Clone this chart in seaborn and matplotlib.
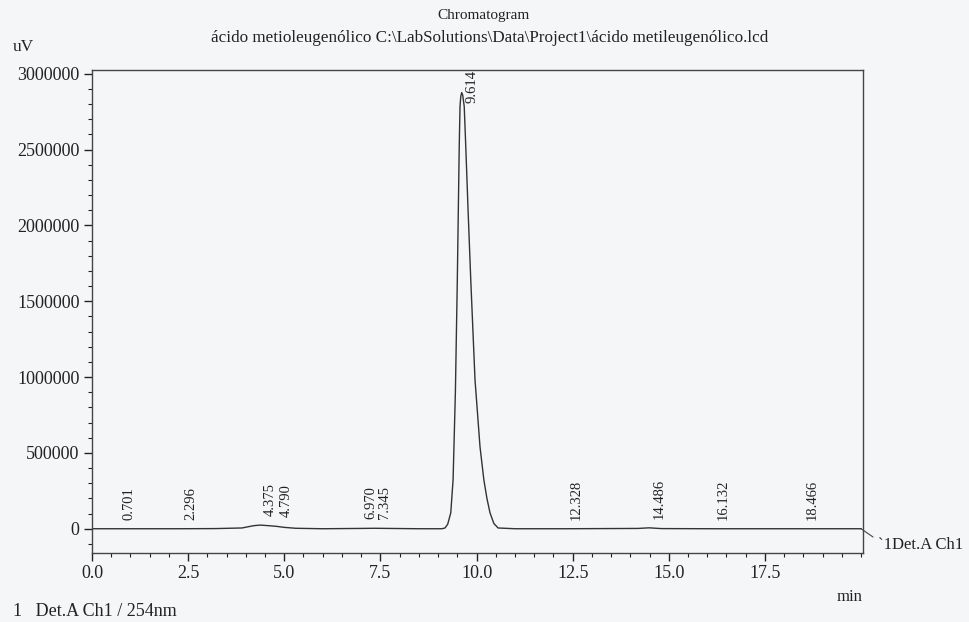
import numpy as np
import pandas as pd
import matplotlib
matplotlib.use("Agg")
import matplotlib.pyplot as plt
from matplotlib.ticker import MultipleLocator, FixedLocator, FormatStrFormatter
import seaborn as sns

# chromatogram trace (min, uV)
times = [0.0, 0.7, 1.5, 2.3, 3.2, 3.9, 4.2, 4.375, 4.6, 4.79, 5.0, 5.3,
         6.0, 6.97, 7.345, 8.5, 9.1, 9.18, 9.25, 9.33, 9.39, 9.45, 9.50,
         9.55, 9.57, 9.59, 9.614, 9.64, 9.68, 9.72, 9.78, 9.85, 9.96,
         10.09, 10.19, 10.27, 10.35, 10.45, 10.56, 11.0, 12.328, 14.2,
         14.486, 14.8, 16.132, 17.5, 18.466, 20.0]
signal = [0, 0, 0, 0, 1000, 5000, 20000, 24000, 20000, 16000, 9000, 3000,
          0, 2000, 3000, 0, 0, 5000, 30000, 105000, 323000, 900000, 1640000,
          2520000, 2784000, 2850000, 2876000, 2860000, 2784000, 2520000,
          2100000, 1640000, 983000, 541000, 323000, 200000, 105000, 35000,
          5000, 0, 0, 2000, 6000, 1000, 0, 0, 0, 0]

# integrated peaks
peak_rt = [0.701, 2.296, 4.375, 4.790, 6.970, 7.345, 9.614,
           12.328, 14.486, 16.132, 18.466]

x_ticks = [0.0, 2.5, 5.0, 7.5, 10.0, 12.5, 15.0, 17.5]

df = pd.DataFrame({"t": times, "uV": signal})

plt.rcParams["font.family"] = ["Liberation Serif", "DejaVu Serif"]
txt = "#222222"

fig = plt.figure(figsize=(9.69, 6.22), dpi=100)
fig.patch.set_facecolor("#f4f6f8")
ax = fig.add_axes([92 / 969, 1 - 553 / 622, (863 - 92) / 969, (553 - 70) / 622])
ax.set_facecolor("#f4f6f8")

sns.lineplot(data=df, x="t", y="uV", ax=ax, color="#333333", linewidth=1.0)

ax.set_xlim(0, 20.05)
ax.set_ylim(-160000, 3025000)
ax.xaxis.set_major_locator(FixedLocator(x_ticks))
ax.xaxis.set_minor_locator(MultipleLocator(0.5))
ax.yaxis.set_major_locator(MultipleLocator(500000))
ax.yaxis.set_minor_locator(MultipleLocator(100000))
ax.xaxis.set_major_formatter(FormatStrFormatter("%.1f"))
ax.yaxis.set_major_formatter(FormatStrFormatter("%d"))
ax.tick_params(which="major", direction="out", length=6, width=1, colors=txt,
               labelsize=13, pad=3)
ax.tick_params(which="minor", direction="out", length=3, width=0.8, colors=txt)
ax.set_xlabel("")
ax.set_ylabel("")
for s in ax.spines.values():
    s.set_color("#444444")
    s.set_linewidth(1.0)

# retention time labels
trans = matplotlib.transforms.offset_copy(ax.transData, fig=fig, x=4, y=9, units="dots")
for rt in peak_rt:
    h = min(np.interp(rt, times, signal), 2.75e6)
    ax.text(rt, h, f"{rt:.3f}", rotation=90, ha="left", va="bottom",
            fontsize=10.5, color=txt, transform=trans)

# channel tag at end of trace
ax.annotate("", xy=(times[-1], signal[-1]), xycoords="data",
            xytext=(873, 622 - 537), textcoords="figure pixels",
            arrowprops=dict(arrowstyle="-", color="#444444", lw=0.8,
                            shrinkA=0, shrinkB=0),
            annotation_clip=False)
fig.text(878 / 969, 1 - 545 / 622, "`1Det.A Ch1", ha="left", va="center",
         fontsize=12, color=txt)

fig.text(483 / 969, 1 - 15 / 622, "Chromatogram", ha="center", va="center",
         fontsize=11, color=txt)
fig.text(490 / 969, 1 - 38 / 622,
         "ácido metioleugenólico C:\\LabSolutions\\Data\\Project1\\ácido metileugenólico.lcd",
         ha="center", va="center", fontsize=12.3, color=txt)
fig.text(13 / 969, 1 - 47 / 622, "uV", ha="left", va="center", fontsize=12.5, color=txt)
fig.text(862 / 969, 1 - 597 / 622, "min", ha="right", va="center", fontsize=12, color=txt)
fig.text(13 / 969, 1 - 612 / 622, "1   Det.A Ch1 / 254nm", ha="left", va="center",
         fontsize=13, color=txt)

fig.savefig("out.png", dpi=100, facecolor=fig.get_facecolor())
